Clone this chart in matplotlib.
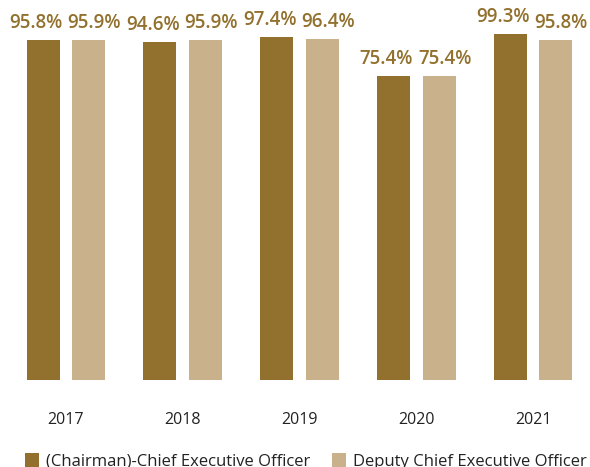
import matplotlib
matplotlib.use("Agg")
import matplotlib.pyplot as plt
from matplotlib.patches import Rectangle
import numpy as np

years = ["2017", "2018", "2019", "2020", "2021"]
ceo = [95.8, 94.6, 97.4, 75.4, 99.3]
deputy = [95.9, 95.9, 96.4, 75.4, 95.8]
series_names = ["(Chairman)-Chief Executive Officer", "Deputy Chief Executive Officer"]

DARK = "#92712E"
LIGHT = "#C8B18B"
FONT = "Open Sans"

W, H = 590, 467
fig = plt.figure(figsize=(W / 100, H / 100), dpi=100)
ax = fig.add_axes([0, (H - 380) / H, 1, 380 / H])

BASE = -97.6
x = np.arange(len(years))
off = 0.195
bw = 0.283
ax.bar(x - off, np.array(ceo) - BASE, width=bw, bottom=BASE, color=DARK)
ax.bar(x + off, np.array(deputy) - BASE, width=bw, bottom=BASE, color=LIGHT)

ax.set_ylim(BASE, 118.6)
ax.set_xlim(-0.565, 4.488)
ax.axis("off")

for xi, v in zip(x, ceo):
    ax.annotate(f"{v}%", (xi - off, v), xytext=(-5, 5), textcoords="offset points",
                ha="center", va="bottom", color=DARK, fontsize=13.5, fontweight="semibold",
                family=FONT)
for xi, v in zip(x, deputy):
    ax.annotate(f"{v}%", (xi + off, v), xytext=(4, 5), textcoords="offset points",
                ha="center", va="bottom", color=DARK, fontsize=13.5, fontweight="semibold",
                family=FONT)

for xi, y in zip(x, years):
    ax.annotate(y, (xi, BASE), xytext=(0, -29), textcoords="offset points",
                ha="center", va="center", color="#222222", fontsize=11.5, family=FONT)

# legend
for (x0, name, col) in [(25, series_names[0], DARK), (332, series_names[1], LIGHT)]:
    fig.patches.append(Rectangle((x0 / W, 0), 14 / W, 14 / H, transform=fig.transFigure,
                                 facecolor=col, edgecolor="none"))
    fig.text((x0 + 21) / W, 1 / H, name, ha="left", va="baseline", fontsize=12,
             color="#222222", family=FONT)

fig.savefig("out.png", dpi=100)
